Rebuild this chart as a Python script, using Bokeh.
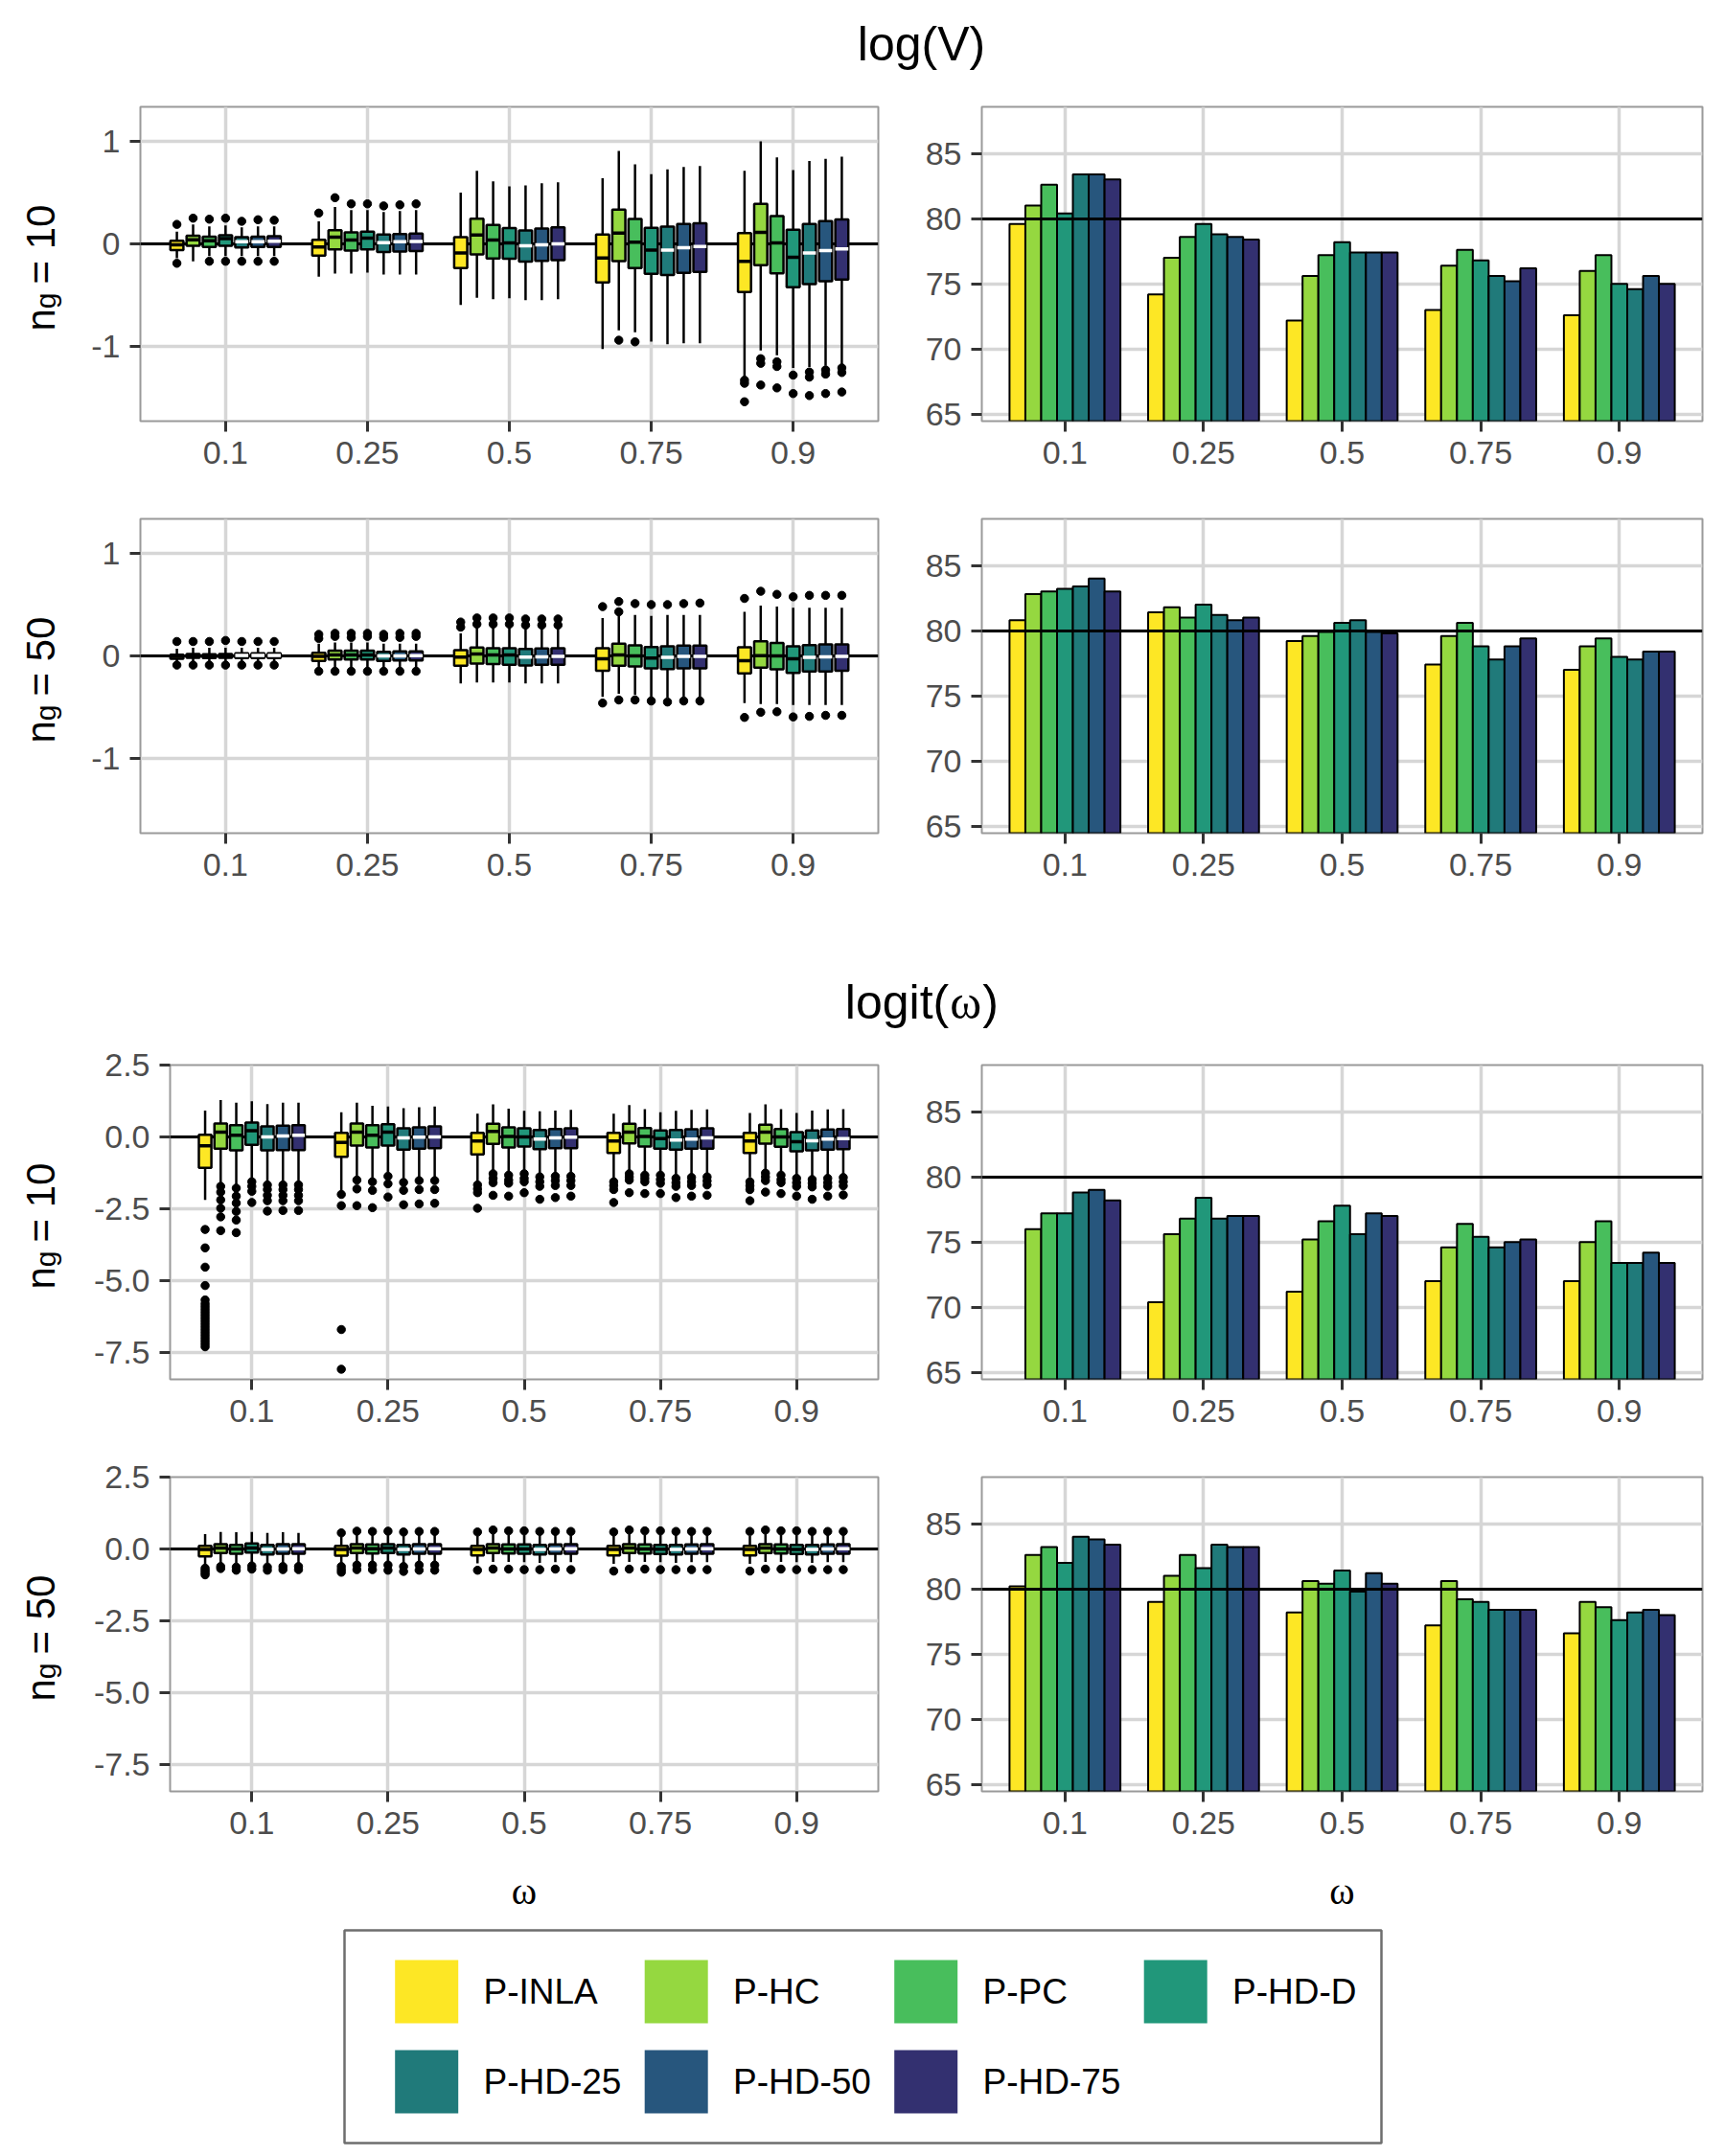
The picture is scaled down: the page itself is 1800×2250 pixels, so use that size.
import math
from bokeh.plotting import figure
from bokeh.layouts import row, column
from bokeh.models import Range1d, FixedTicker, PrintfTickFormatter, ColumnDataSource
from bokeh.embed import file_html
from bokeh.resources import INLINE
from bokeh.core.properties import value

SANS = "Liberation Sans"
SERIF = "Liberation Serif"

METHODS = ["P-INLA", "P-HC", "P-PC", "P-HD-D", "P-HD-25", "P-HD-50", "P-HD-75"]
COLORS = ["#FDE725", "#95D840", "#48BE5C", "#21977A", "#207A7A", "#27567D", "#333070"]
MEDIAN_COLORS = ["black", "black", "black", "black", "white", "white", "white"]
OMEGA = ["0.1", "0.25", "0.5", "0.75", "0.9"]

# ---------------- coverage of 80% intervals (%), rows = omega, cols = method
COV_LOGV_10 = [
    [79.6, 81.0, 82.6, 80.4, 83.4, 83.4, 83.0],
    [74.2, 77.0, 78.6, 79.6, 78.8, 78.6, 78.4],
    [72.2, 75.6, 77.2, 78.2, 77.4, 77.4, 77.4],
    [73.0, 76.4, 77.6, 76.8, 75.6, 75.2, 76.2],
    [72.6, 76.0, 77.2, 75.0, 74.6, 75.6, 75.0],
]
COV_LOGV_50 = [
    [80.8, 82.8, 83.0, 83.2, 83.4, 84.0, 83.0],
    [81.4, 81.8, 81.0, 82.0, 81.2, 80.8, 81.0],
    [79.2, 79.6, 79.9, 80.6, 80.8, 79.9, 79.8],
    [77.4, 79.6, 80.6, 78.8, 77.8, 78.8, 79.4],
    [77.0, 78.8, 79.4, 78.0, 77.8, 78.4, 78.4],
]
COV_LOGIT_10 = [
    [None, 76.0, 77.2, 77.2, 78.8, 79.0, 78.2],
    [70.4, 75.6, 76.8, 78.4, 76.8, 77.0, 77.0],
    [71.2, 75.2, 76.6, 77.8, 75.6, 77.2, 77.0],
    [72.0, 74.6, 76.4, 75.4, 74.6, 75.0, 75.2],
    [72.0, 75.0, 76.6, 73.4, 73.4, 74.2, 73.4],
]
COV_LOGIT_50 = [
    [80.2, 82.6, 83.2, 82.0, 84.0, 83.8, 83.4],
    [79.0, 81.0, 82.6, 81.6, 83.4, 83.2, 83.2],
    [78.2, 80.6, 80.4, 81.4, 79.8, 81.2, 80.4],
    [77.2, 80.6, 79.2, 79.0, 78.4, 78.4, 78.4],
    [76.6, 79.0, 78.6, 77.6, 78.2, 78.4, 78.0],
]
COV_TARGET = 80

# ---------------- bias boxplots: (lower whisker, q1, median, q3, upper whisker)
LOGV10_BOX = [
    [(-0.14, -0.06, -0.01, 0.03, 0.12), (-0.17, -0.02, 0.04, 0.08, 0.19), (-0.12, -0.03, 0.03, 0.07, 0.17),
     (-0.12, -0.02, 0.05, 0.085, 0.18), (-0.12, -0.035, 0.02, 0.065, 0.16), (-0.12, -0.03, 0.02, 0.07, 0.17),
     (-0.12, -0.03, 0.025, 0.075, 0.17)],
    [(-0.32, -0.115, -0.03, 0.04, 0.22), (-0.29, -0.053, 0.065, 0.134, 0.36), (-0.29, -0.065, 0.037, 0.112, 0.33),
     (-0.28, -0.053, 0.056, 0.12, 0.33), (-0.30, -0.08, 0.012, 0.09, 0.31), (-0.30, -0.075, 0.02, 0.095, 0.32),
     (-0.30, -0.07, 0.022, 0.10, 0.33)],
    [(-0.595, -0.237, -0.09, 0.065, 0.50), (-0.526, -0.103, 0.087, 0.246, 0.713), (-0.54, -0.143, 0.037, 0.184, 0.61),
     (-0.53, -0.146, 0.01, 0.153, 0.56), (-0.55, -0.174, -0.019, 0.13, 0.57), (-0.55, -0.165, -0.01, 0.15, 0.59),
     (-0.54, -0.16, 0.0, 0.16, 0.60)],
    [(-1.025, -0.377, -0.137, 0.09, 0.64), (-0.844, -0.168, 0.106, 0.333, 0.906), (-0.863, -0.237, 0.016, 0.243, 0.776),
     (-0.953, -0.293, -0.062, 0.156, 0.68), (-0.978, -0.305, -0.06, 0.168, 0.726), (-0.97, -0.283, -0.037, 0.193, 0.75),
     (-0.97, -0.274, -0.025, 0.20, 0.76)],
    [(-1.305, -0.47, -0.171, 0.106, 0.713), (-1.04, -0.209, 0.112, 0.389, 1.0), (-1.087, -0.287, 0.01, 0.271, 0.844),
     (-1.21, -0.424, -0.131, 0.137, 0.72), (-1.20, -0.393, -0.09, 0.193, 0.807), (-1.19, -0.364, -0.065, 0.221, 0.83),
     (-1.18, -0.349, -0.05, 0.237, 0.85)],
]
LOGV10_OUT = [
    [[0.19, -0.19], [0.25], [0.24, -0.17], [0.25, -0.17], [0.22, -0.17], [0.235, -0.17], [0.23, -0.17]],
    [[0.30], [0.45], [0.39], [0.39], [0.37], [0.38], [0.39]],
    [[], [], [], [], [], [], []],
    [[], [-0.94], [-0.956], [], [], [], []],
    [[-1.33, -1.36, -1.54], [-1.12, -1.165, -1.377], [-1.15, -1.196, -1.405], [-1.28, -1.46],
     [-1.25, -1.30, -1.48], [-1.23, -1.27, -1.46], [-1.21, -1.255, -1.445]],
]

LOGV50_BOX = [
    [(-0.07, -0.028, -0.005, 0.012, 0.07), (-0.07, -0.02, 0.0, 0.018, 0.08), (-0.07, -0.022, 0.0, 0.016, 0.08),
     (-0.07, -0.02, 0.002, 0.018, 0.08), (-0.07, -0.022, 0.004, 0.026, 0.08), (-0.07, -0.022, 0.004, 0.026, 0.08),
     (-0.07, -0.022, 0.004, 0.026, 0.08)],
    [(-0.12, -0.05, -0.005, 0.03, 0.12), (-0.12, -0.035, 0.01, 0.05, 0.13), (-0.12, -0.035, 0.01, 0.05, 0.13),
     (-0.12, -0.035, 0.01, 0.05, 0.13), (-0.12, -0.05, 0.0, 0.04, 0.12), (-0.12, -0.045, 0.0, 0.045, 0.12),
     (-0.12, -0.045, 0.002, 0.045, 0.12)],
    [(-0.27, -0.097, -0.012, 0.056, 0.22), (-0.26, -0.075, 0.019, 0.081, 0.28), (-0.26, -0.08, 0.01, 0.075, 0.28),
     (-0.26, -0.087, 0.01, 0.075, 0.28), (-0.27, -0.094, -0.012, 0.068, 0.27), (-0.27, -0.087, -0.01, 0.072, 0.27),
     (-0.27, -0.087, -0.005, 0.075, 0.27)],
    [(-0.40, -0.146, -0.028, 0.075, 0.37), (-0.37, -0.097, 0.009, 0.118, 0.40), (-0.38, -0.103, 0.0, 0.103, 0.40),
     (-0.40, -0.122, -0.022, 0.087, 0.39), (-0.41, -0.128, -0.015, 0.093, 0.40), (-0.40, -0.122, -0.006, 0.10, 0.40),
     (-0.40, -0.122, -0.006, 0.10, 0.40)],
    [(-0.46, -0.171, -0.047, 0.084, 0.43), (-0.47, -0.115, 0.003, 0.143, 0.49), (-0.47, -0.131, 0.0, 0.125, 0.48),
     (-0.48, -0.165, -0.028, 0.093, 0.47), (-0.48, -0.153, -0.015, 0.106, 0.47), (-0.48, -0.153, -0.01, 0.112, 0.47),
     (-0.48, -0.146, -0.006, 0.112, 0.47)],
]
LOGV50_OUT = [
    [[0.14, -0.09], [0.14, -0.09], [0.14, -0.09], [0.15, -0.09], [0.14, -0.09], [0.14, -0.09], [0.14, -0.09]],
    [[0.17, 0.21, -0.15], [0.19, 0.22, -0.15], [0.18, 0.22, -0.15], [0.19, 0.22, -0.15], [0.18, 0.21, -0.15],
     [0.18, 0.22, -0.15], [0.19, 0.22, -0.15]],
    [[0.28, 0.33], [0.31, 0.37], [0.31, 0.37], [0.31, 0.37], [0.30, 0.36], [0.30, 0.36], [0.30, 0.36]],
    [[0.48, -0.46], [0.43, 0.53, -0.43], [0.51, -0.43], [0.50, -0.44], [0.50, -0.45], [0.51, -0.44], [0.515, -0.44]],
    [[0.56, -0.60], [0.63, -0.55], [0.60, -0.545], [0.576, -0.595], [0.59, -0.59], [0.59, -0.58], [0.59, -0.58]],
]

LOGIT10_BOX = [
    [(-2.19, -1.078, -0.31, 0.078, 0.92), (-1.59, -0.41, 0.167, 0.467, 1.28), (-1.67, -0.467, 0.056, 0.41, 1.19),
     (-1.44, -0.278, 0.22, 0.50, 1.24), (-1.56, -0.467, 0.0, 0.367, 1.14), (-1.56, -0.456, 0.033, 0.39, 1.19),
     (-1.56, -0.456, 0.056, 0.41, 1.19)],
    [(-1.89, -0.689, -0.19, 0.144, 0.856), (-1.39, -0.30, 0.167, 0.467, 1.19), (-1.44, -0.367, 0.056, 0.41, 1.08),
     (-1.22, -0.30, 0.167, 0.44, 1.06), (-1.44, -0.444, -0.033, 0.30, 1.0), (-1.39, -0.41, -0.01, 0.333, 1.03),
     (-1.39, -0.39, 0.0, 0.367, 1.06)],
    [(-1.56, -0.61, -0.144, 0.144, 0.81), (-1.17, -0.244, 0.19, 0.456, 1.13), (-1.22, -0.367, 0.02, 0.333, 0.98),
     (-1.17, -0.333, 0.0, 0.30, 0.91), (-1.28, -0.422, -0.078, 0.244, 0.89), (-1.26, -0.389, -0.033, 0.278, 0.92),
     (-1.26, -0.389, -0.01, 0.30, 0.94)],
    [(-1.44, -0.556, -0.144, 0.144, 0.81), (-1.17, -0.222, 0.167, 0.456, 1.11), (-1.22, -0.333, 0.02, 0.31, 0.97),
     (-1.22, -0.411, -0.056, 0.222, 0.86), (-1.33, -0.444, -0.111, 0.244, 0.91), (-1.28, -0.411, -0.078, 0.267, 0.94),
     (-1.28, -0.411, -0.033, 0.30, 0.96)],
    [(-1.41, -0.556, -0.144, 0.144, 0.83), (-1.14, -0.233, 0.167, 0.422, 1.13), (-1.22, -0.344, 0.0, 0.278, 0.97),
     (-1.33, -0.50, -0.167, 0.167, 0.83), (-1.37, -0.467, -0.133, 0.222, 0.92), (-1.33, -0.444, -0.078, 0.256, 0.96),
     (-1.30, -0.422, -0.056, 0.278, 0.97)],
]
LOGIT10_OUT = [
    [[-3.22, -3.86, -4.53, -5.17, -5.67, -5.8, -5.9, -6.0, -6.1, -6.2, -6.3, -6.4, -6.5, -6.6, -6.7, -6.8,
      -6.9, -7.0, -7.1, -7.2, -7.3],
     [-1.72, -1.92, -2.19, -2.48, -2.78, -3.26], [-1.78, -2.06, -2.30, -2.59, -2.89, -3.33],
     [-1.56, -1.72, -1.89, -2.28], [-1.67, -1.83, -2.03, -2.22, -2.58], [-1.67, -1.83, -2.03, -2.22, -2.56],
     [-1.67, -1.83, -2.03, -2.22, -2.56]],
    [[-2.0, -2.39, -6.7, -8.08], [-1.50, -1.81, -2.39], [-1.56, -1.86, -2.46], [-1.37, -1.63, -2.09],
     [-1.58, -1.86, -2.36], [-1.52, -1.83, -2.33], [-1.52, -1.83, -2.31]],
    [[-1.67, -1.81, -1.94, -2.48], [-1.28, -1.44, -1.59, -2.03], [-1.33, -1.50, -1.61, -2.06],
     [-1.28, -1.44, -1.56, -1.94], [-1.39, -1.56, -1.72, -2.17], [-1.37, -1.52, -1.69, -2.11],
     [-1.37, -1.52, -1.69, -2.06]],
    [[-1.56, -1.69, -1.83, -2.28], [-1.28, -1.39, -1.50, -1.94], [-1.33, -1.44, -1.56, -1.97],
     [-1.33, -1.48, -1.61, -1.97], [-1.44, -1.59, -1.72, -2.11], [-1.41, -1.56, -1.69, -2.06],
     [-1.39, -1.53, -1.67, -2.03]],
    [[-1.56, -1.70, -1.83, -2.22], [-1.26, -1.39, -1.52, -1.92], [-1.33, -1.48, -1.59, -1.97],
     [-1.44, -1.59, -1.72, -2.06], [-1.48, -1.61, -1.74, -2.17], [-1.44, -1.59, -1.72, -2.06],
     [-1.41, -1.56, -1.70, -2.02]],
]

LOGIT50_BOX = [
    [(-0.56, -0.256, -0.02, 0.11, 0.52), (-0.50, -0.144, 0.03, 0.167, 0.59), (-0.50, -0.167, 0.0, 0.144, 0.58),
     (-0.48, -0.122, 0.03, 0.19, 0.59), (-0.50, -0.19, -0.02, 0.144, 0.56), (-0.50, -0.167, 0.0, 0.167, 0.58),
     (-0.50, -0.167, 0.01, 0.167, 0.56)],
    [(-0.50, -0.233, -0.02, 0.11, 0.42), (-0.50, -0.144, 0.03, 0.167, 0.50), (-0.50, -0.156, 0.01, 0.156, 0.50),
     (-0.50, -0.144, 0.03, 0.167, 0.50), (-0.52, -0.19, -0.02, 0.144, 0.48), (-0.50, -0.167, 0.0, 0.167, 0.50),
     (-0.50, -0.167, 0.01, 0.167, 0.50)],
    [(-0.50, -0.222, -0.02, 0.11, 0.45), (-0.45, -0.144, 0.03, 0.167, 0.52), (-0.45, -0.156, 0.0, 0.156, 0.50),
     (-0.46, -0.167, 0.0, 0.156, 0.50), (-0.48, -0.19, -0.02, 0.144, 0.48), (-0.46, -0.167, 0.0, 0.156, 0.50),
     (-0.46, -0.167, 0.01, 0.167, 0.50)],
    [(-0.52, -0.222, -0.02, 0.11, 0.45), (-0.45, -0.144, 0.03, 0.167, 0.52), (-0.45, -0.156, 0.0, 0.156, 0.50),
     (-0.46, -0.178, -0.01, 0.144, 0.50), (-0.48, -0.19, -0.02, 0.144, 0.48), (-0.46, -0.167, 0.0, 0.156, 0.50),
     (-0.46, -0.167, 0.01, 0.167, 0.50)],
    [(-0.52, -0.222, -0.02, 0.11, 0.46), (-0.45, -0.144, 0.03, 0.167, 0.52), (-0.45, -0.156, 0.0, 0.156, 0.50),
     (-0.46, -0.178, -0.02, 0.144, 0.50), (-0.48, -0.19, -0.02, 0.144, 0.48), (-0.46, -0.167, 0.0, 0.156, 0.50),
     (-0.46, -0.167, 0.01, 0.167, 0.50)],
]
LOGIT50_OUT = [
    [[-0.67, -0.75, -0.83, -0.90], [-0.61, -0.68], [-0.63, -0.74], [-0.59, -0.70], [-0.63, -0.74],
     [-0.61, -0.72], [-0.61, -0.72]],
    [[0.56, -0.61, -0.72, -0.81], [0.62, -0.56, -0.72], [0.61, -0.56, -0.72], [0.62, -0.56, -0.74],
     [0.59, -0.61, -0.78], [0.61, -0.56, -0.74], [0.61, -0.56, -0.74]],
    [[0.59, -0.74], [0.66, -0.70], [0.63, -0.70], [0.63, -0.72], [0.61, -0.72], [0.61, -0.70], [0.61, -0.72]],
    [[0.59, -0.77], [0.66, -0.70], [0.63, -0.70], [0.63, -0.72], [0.61, -0.72], [0.61, -0.72], [0.61, -0.72]],
    [[0.61, -0.77], [0.66, -0.70], [0.63, -0.70], [0.63, -0.72], [0.61, -0.72], [0.61, -0.72], [0.61, -0.72]],
]

# ---------------- geometry
PAGE_W = 1800
LAB_W, BOX_FIG_W, BAR_FIG_W = 80, 860, 860
FRAME_TOP, FRAME_H = 21, 328
SLOT = 0.8 / len(METHODS)
BOX_WIDTH = 0.092
TICK_FONT = "34px"


def dodge(g, i):
    return g + 1 + (i - (len(METHODS) - 1) / 2) * SLOT


def style_panel(p, yticks, yfmt):
    p.xaxis.ticker = FixedTicker(ticks=list(range(1, len(OMEGA) + 1)))
    p.xaxis.major_label_overrides = {i + 1: lab for i, lab in enumerate(OMEGA)}
    p.yaxis.ticker = FixedTicker(ticks=yticks)
    p.yaxis.formatter = PrintfTickFormatter(format=yfmt)
    for ax in p.axis:
        ax.axis_line_color = None
        ax.major_tick_line_color = "#333333"
        ax.major_tick_line_width = 3
        ax.major_tick_out = 11
        ax.major_tick_in = 0
        ax.minor_tick_line_color = None
        ax.major_label_text_font = SANS
        ax.major_label_text_font_size = TICK_FONT
        ax.major_label_text_color = "#4D4D4D"
    p.xaxis.major_label_standoff = 10
    p.yaxis.major_label_standoff = 10
    p.grid.grid_line_color = "#D6D6D6"
    p.grid.grid_line_width = 3.5
    p.outline_line_color = "#9A9A9A"
    p.outline_line_width = 2
    p.background_fill_color = "white"
    p.border_fill_color = "white"


def box_panel(stats, outliers, y_lo, y_hi, yticks, yfmt, left, height):
    p = figure(width=BOX_FIG_W, height=height, x_range=Range1d(0.4, 5.6), y_range=Range1d(y_lo, y_hi),
               output_backend="svg", toolbar_location=None, min_border_left=left, min_border_right=24,
               min_border_top=FRAME_TOP, min_border_bottom=height - FRAME_TOP - FRAME_H)
    style_panel(p, yticks, yfmt)
    d = dict(x=[], xl=[], xr=[], lo=[], q1=[], med=[], q3=[], hi=[], fill=[], mcol=[])
    ox, oy = [], []
    for g, group in enumerate(stats):
        for i, (lo, q1, med, q3, hi) in enumerate(group):
            x = dodge(g, i)
            d["x"].append(x)
            d["xl"].append(x - BOX_WIDTH / 2)
            d["xr"].append(x + BOX_WIDTH / 2)
            d["lo"].append(lo)
            d["q1"].append(q1)
            d["med"].append(med)
            d["q3"].append(q3)
            d["hi"].append(hi)
            d["fill"].append(COLORS[i])
            d["mcol"].append(MEDIAN_COLORS[i])
            for v in outliers[g][i]:
                ox.append(x)
                oy.append(v)
    src = ColumnDataSource(d)
    p.hspan(y=[0], line_color="black", line_width=3)
    p.segment(x0="x", x1="x", y0="q3", y1="hi", source=src, line_color="black", line_width=2.5)
    p.segment(x0="x", x1="x", y0="lo", y1="q1", source=src, line_color="black", line_width=2.5)
    p.vbar(x="x", width=BOX_WIDTH, top="q3", bottom="q1", source=src, fill_color="fill",
           line_color="black", line_width=2.5)
    p.segment(x0="xl", x1="xr", y0="med", y1="med", source=src, line_color="mcol", line_width=3.5)
    p.scatter(x=ox, y=oy, size=8.5, color="black")
    return p


def bar_panel(cov, height):
    p = figure(width=BAR_FIG_W, height=height, x_range=Range1d(0.4, 5.6), y_range=Range1d(64.48, 88.57),
               output_backend="svg", toolbar_location=None, min_border_left=84, min_border_right=24,
               min_border_top=FRAME_TOP, min_border_bottom=height - FRAME_TOP - FRAME_H)
    style_panel(p, [65, 70, 75, 80, 85], "%d")
    d = dict(x=[], top=[], fill=[])
    for g, group in enumerate(cov):
        for i, v in enumerate(group):
            if v is None:
                continue
            d["x"].append(dodge(g, i))
            d["top"].append(v)
            d["fill"].append(COLORS[i])
    p.vbar(x="x", width=SLOT, top="top", bottom=0, source=ColumnDataSource(d), fill_color="fill",
           line_color="black", line_width=2)
    p.hspan(y=[COV_TARGET], line_color="black", line_width=3)
    return p


def blank(w, h):
    p = figure(width=w, height=h, x_range=Range1d(0, w), y_range=Range1d(0, h), x_axis_type=None,
               y_axis_type=None, output_backend="svg", toolbar_location=None, min_border=0)
    p.outline_line_color = None
    p.background_fill_color = "white"
    p.border_fill_color = "white"
    return p


def ng_label(height, ng):
    # "n" with subscript "g", then "= <ng>", reading bottom to top; the frame of this
    # narrow figure matches the panel frames of the row, y measured in pixels
    p = figure(width=LAB_W, height=height, x_range=Range1d(0, LAB_W), y_range=Range1d(0, FRAME_H),
               x_axis_type=None, y_axis_type=None, output_backend="svg", toolbar_location=None,
               min_border_left=0, min_border_right=0, min_border_top=FRAME_TOP,
               min_border_bottom=height - FRAME_TOP - FRAME_H)
    p.outline_line_color = None
    p.background_fill_color = "white"
    p.border_fill_color = "white"
    big, small = 42, 30
    n_start = 234                     # distance of the string's start below the frame top
    g_start = n_start - 0.556 * big
    eq_start = g_start - 0.556 * small - 9
    base_x = 42
    common = dict(angle=math.pi / 2, text_align="left", text_baseline="alphabetic",
                  text_font=value(SANS), text_color="black")
    p.text(x=[base_x], y=[FRAME_H - n_start], text=["n"], text_font_size=value("%dpx" % big), **common)
    p.text(x=[base_x + 5], y=[FRAME_H - g_start], text=["g"], text_font_size=value("%dpx" % small), **common)
    p.text(x=[base_x], y=[FRAME_H - eq_start], text=["= %d" % ng], text_font_size=value("%dpx" % big), **common)
    return p


def title_sans(height, text, y_down):
    p = blank(PAGE_W, height)
    p.text(x=[961], y=[height - y_down], text=[text], text_align="center", text_baseline="middle",
           text_font=value(SANS), text_font_size=value("50px"), text_color="black")
    return p


def title_logit(height, y_down):
    p = blank(PAGE_W, height)
    y = height - y_down
    xa = 989.7
    p.text(x=[xa], y=[y], text=["logit("], text_align="right", text_baseline="middle",
           text_font=value(SANS), text_font_size=value("50px"), text_color="black")
    p.text(x=[xa + 1], y=[y], text=["\u03c9"], text_align="left", text_baseline="middle",
           text_font=value(SERIF), text_font_size=value("50px"), text_color="black")
    p.text(x=[xa + 35], y=[y], text=[")"], text_align="left", text_baseline="middle",
           text_font=value(SANS), text_font_size=value("50px"), text_color="black")
    return p


def omega_row(height):
    p = blank(PAGE_W, height)
    left_center = LAB_W + (97 + (BOX_FIG_W - 24)) / 2
    right_center = LAB_W + BOX_FIG_W + (84 + (BAR_FIG_W - 24)) / 2
    p.text(x=[left_center, right_center], y=[height - 33] * 2, text=["\u03c9", "\u03c9"],
           text_align="center", text_baseline="middle", text_font=value(SERIF),
           text_font_size=value("40px"), text_color="black")
    return p


def legend_row(height):
    p = blank(PAGE_W, height)
    p.quad(left=[359], right=[1441], top=[height - 9], bottom=[height - 231], fill_color=None,
           line_color="#6E6E6E", line_width=2.5)
    key = 66
    col_pitch, row_pitch = 260.5, 94
    xs, ys, lx, ly = [], [], [], []
    for k, name in enumerate(METHODS):
        c, r = k % 4, k // 4
        x0 = 411.7 + c * col_pitch
        yc = height - (40 + key / 2 + r * row_pitch)
        xs.append(x0 + key / 2)
        ys.append(yc)
        lx.append(x0 + key + 26.3)
        ly.append(yc)
    p.rect(x=xs, y=ys, width=key, height=key, fill_color=COLORS, line_color=None)
    p.text(x=lx, y=ly, text=METHODS, text_align="left", text_baseline="middle",
           text_font=value(SANS), text_font_size=value("37px"), text_color="black")
    return p


H_T1, H_A, H_B, H_T2, H_C, H_D, H_W, H_L = 90, 430, 440, 130, 430, 420, 65, 245

row_a = row(ng_label(H_A, 10),
            box_panel(LOGV10_BOX, LOGV10_OUT, -1.729, 1.336, [-1, 0, 1], "%d", 66, H_A),
            bar_panel(COV_LOGV_10, H_A))
row_b = row(ng_label(H_B, 50),
            box_panel(LOGV50_BOX, LOGV50_OUT, -1.729, 1.336, [-1, 0, 1], "%d", 66, H_B),
            bar_panel(COV_LOGV_50, H_B))
row_c = row(ng_label(H_C, 10),
            box_panel(LOGIT10_BOX, LOGIT10_OUT, 2.5 - FRAME_H / 30.0, 2.5, [-7.5, -5, -2.5, 0, 2.5], "%.1f", 97, H_C),
            bar_panel(COV_LOGIT_10, H_C))
row_d = row(ng_label(H_D, 50),
            box_panel(LOGIT50_BOX, LOGIT50_OUT, 2.5 - FRAME_H / 30.0, 2.5, [-7.5, -5, -2.5, 0, 2.5], "%.1f", 97, H_D),
            bar_panel(COV_LOGIT_50, H_D))

page = column(
    title_sans(H_T1, "log(V)", 45),
    row_a,
    row_b,
    title_logit(H_T2, 85),
    row_c,
    row_d,
    omega_row(H_W),
    legend_row(H_L),
)

open("out.html", "w").write(file_html(page, INLINE))
